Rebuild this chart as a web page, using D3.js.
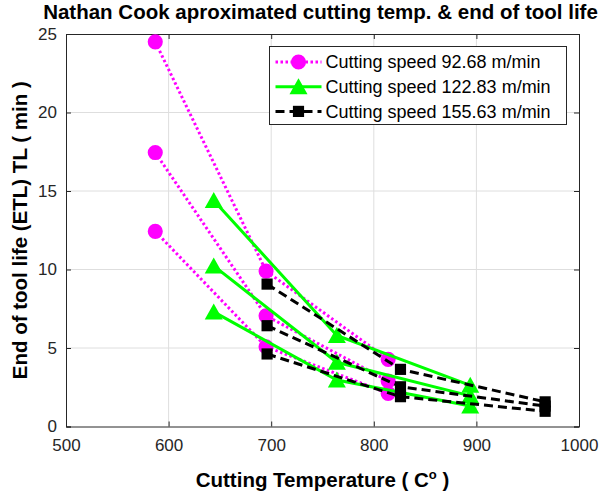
<!DOCTYPE html>
<html>
<head>
<meta charset="utf-8">
<script src="https://cdn.jsdelivr.net/npm/d3@7"></script>
<style>
  body { margin: 0; background: #fff; }
  svg { font-family: "Liberation Sans", Arial, sans-serif; }
</style>
</head>
<body>
<svg id="chart" width="602" height="495"></svg>
<script>
// temperatures (C) where each speed's points sit
const temps92 = [587, 695, 814];
const temps122 = [644, 764, 894];
const temps155 = [696, 826, 967];

// end of tool life (min), three curves per speed
const etl92 = [
  [24.5, 9.9, 4.28],
  [17.45, 7.05, 2.9],
  [12.43, 5.08, 2.11]
];
const etl122 = [
  [14.4, 5.8, 2.62],
  [10.23, 4.09, 1.95],
  [7.3, 2.96, 1.3]
];
const etl155 = [
  [9.07, 3.64, 1.57],
  [6.42, 2.53, 1.3],
  [4.62, 1.9, 0.97]
];

const legendLabels = [
  "Cutting speed 92.68 m/min",
  "Cutting speed 122.83 m/min",
  "Cutting speed 155.63 m/min"
];
const xTicks = [500, 600, 700, 800, 900, 1000];
const yTicks = [0, 5, 10, 15, 20, 25];

const margin = { top: 34, right: 23, bottom: 68.5, left: 66 };
const svg = d3.select("#chart");
const width = +svg.attr("width") - margin.left - margin.right;
const height = +svg.attr("height") - margin.top - margin.bottom;

const x = d3.scaleLinear().domain([500, 1000]).range([0, width]);
const y = d3.scaleLinear().domain([0, 25]).range([height, 0]);

const g = svg.append("g").attr("transform", `translate(${margin.left},${margin.top})`);

// grid
g.append("g")
  .selectAll("line")
  .data(xTicks.slice(1, -1))
  .join("line")
  .attr("x1", (d) => x(d)).attr("x2", (d) => x(d))
  .attr("y1", 0).attr("y2", height)
  .attr("stroke", "#dedede").attr("stroke-width", 1);
g.append("g")
  .selectAll("line")
  .data(yTicks.slice(1, -1))
  .join("line")
  .attr("y1", (d) => y(d)).attr("y2", (d) => y(d))
  .attr("x1", 0).attr("x2", width)
  .attr("stroke", "#dedede").attr("stroke-width", 1);

// axes, ticks pointing inward like matlab
const axColor = "#262626";
const xAxis = g.append("g").attr("transform", `translate(0,${height})`)
  .call(d3.axisBottom(x).tickValues(xTicks).tickFormat(d3.format("d")).tickSize(-5).tickPadding(12));
const yAxis = g.append("g")
  .call(d3.axisLeft(y).tickValues(yTicks).tickSize(-5).tickPadding(9));
g.append("g").call(d3.axisTop(x).tickValues(xTicks).tickSize(-5).tickFormat(""));
g.append("g").attr("transform", `translate(${width},0)`)
  .call(d3.axisRight(y).tickValues(yTicks).tickSize(-5).tickFormat(""));
g.selectAll(".domain").attr("stroke", axColor);
g.selectAll(".tick line").attr("stroke", axColor);
g.selectAll(".tick text").attr("fill", axColor).style("font-size", "17px");
xAxis.selectAll(".tick text").attr("dy", "0.71em");

// series styles
const series = [
  { temps: temps92, etl: etl92, color: "#ff00ff", dash: "2.5,2.5", marker: "circle" },
  { temps: temps122, etl: etl122, color: "#00ff00", dash: null, marker: "triangle" },
  { temps: temps155, etl: etl155, color: "#000000", dash: "9,5", marker: "square" }
];

const symbolFor = (m) => {
  if (m === "circle") return d3.symbol(d3.symbolCircle, 180)();
  if (m === "square") return d3.symbol(d3.symbolSquare, 125)();
  return "M0,-8.5L9,7.5L-9,7.5Z";
};

series.forEach((s) => {
  const line = d3.line()
    .x((d, i) => x(s.temps[i]))
    .y((d) => y(d));
  s.etl.forEach((vals) => {
    g.append("path")
      .attr("d", line(vals))
      .attr("fill", "none")
      .attr("stroke", s.color)
      .attr("stroke-width", 3)
      .attr("stroke-dasharray", s.dash);
  });
  s.etl.forEach((vals) => {
    g.selectAll(null)
      .data(vals)
      .join("path")
      .attr("d", symbolFor(s.marker))
      .attr("transform", (d, i) => `translate(${x(s.temps[i])},${y(d)})`)
      .attr("fill", s.color);
  });
});

// legend
const leg = svg.append("g").attr("transform", "translate(269.5,46.5)");
leg.append("rect")
  .attr("width", 297).attr("height", 78)
  .attr("fill", "#fff").attr("stroke", axColor).attr("stroke-width", 1);
series.forEach((s, i) => {
  const ly = 15.5 + i * 24.7;
  leg.append("line")
    .attr("x1", 6).attr("x2", 52).attr("y1", ly).attr("y2", ly)
    .attr("stroke", s.color).attr("stroke-width", 3)
    .attr("stroke-dasharray", s.dash);
  leg.append("path")
    .attr("d", symbolFor(s.marker))
    .attr("transform", `translate(29,${ly})`)
    .attr("fill", s.color);
  leg.append("text")
    .attr("x", 56).attr("y", ly).attr("dy", "0.35em")
    .style("font-size", "18px").attr("fill", "#000")
    .text(legendLabels[i]);
});

// title and labels
svg.append("text")
  .attr("x", margin.left + width / 2 - 2).attr("y", 19)
  .attr("text-anchor", "middle")
  .style("font-size", "20.5px").style("font-weight", "bold")
  .text("Nathan Cook aproximated cutting temp. & end of tool life");

const xl = svg.append("text")
  .attr("x", margin.left + width / 2).attr("y", 487)
  .attr("text-anchor", "middle")
  .style("font-size", "20.5px").style("font-weight", "bold");
xl.append("tspan").text("Cutting Temperature ( C");
xl.append("tspan").attr("dy", -8).style("font-size", "13px").text("o");
xl.append("tspan").attr("dy", 8).text(" )");

svg.append("text")
  .attr("transform", `translate(27,${margin.top + height / 2}) rotate(-90)`)
  .attr("text-anchor", "middle")
  .style("font-size", "20.5px").style("font-weight", "bold")
  .text("End of tool life (ETL) TL ( min )");
</script>
</body>
</html>
